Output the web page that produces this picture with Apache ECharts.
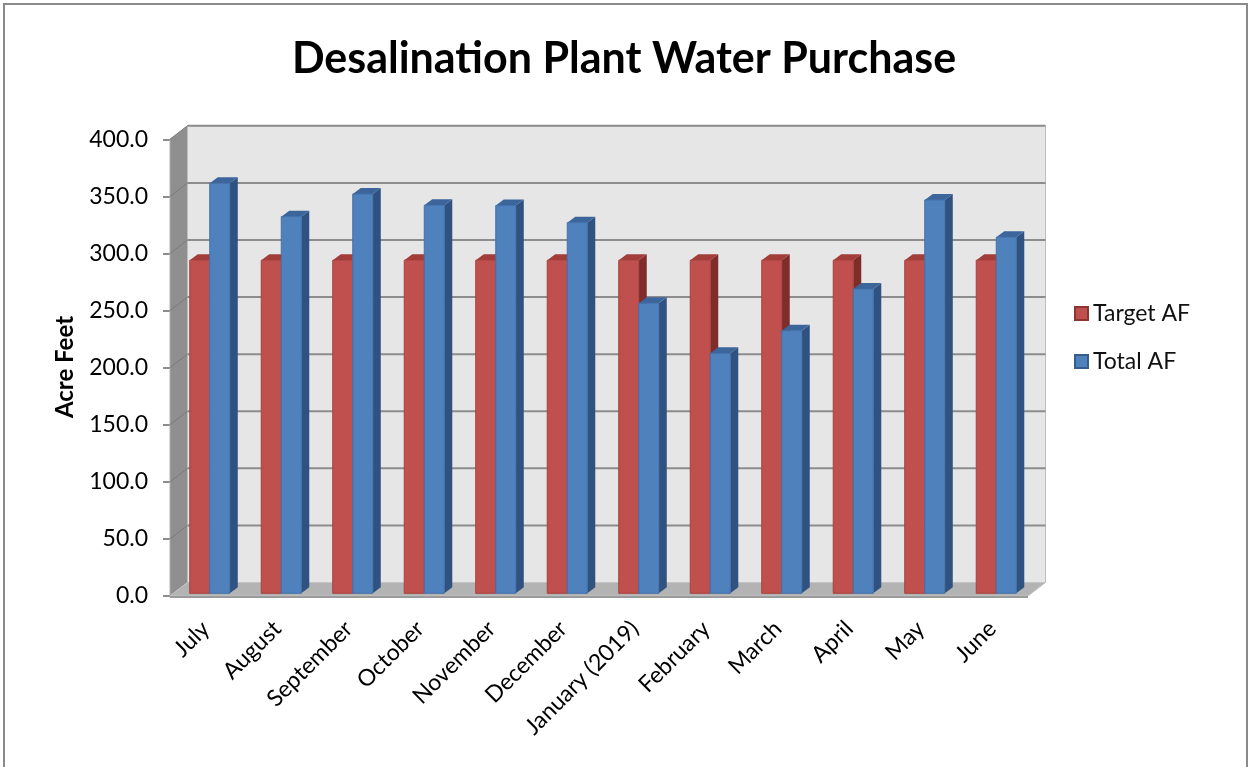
<!DOCTYPE html>
<html>
<head>
<meta charset="utf-8">
<title>Desalination Plant Water Purchase</title>
<script src="https://cdn.jsdelivr.net/npm/echarts@6/dist/echarts.min.js"></script>
<style>
  html, body { margin: 0; padding: 0; background: #ffffff; }
  #chart { width: 1248px; height: 767px; }
</style>
</head>
<body>
<div id="chart"></div>
<script>
// Monthly purchases, fiscal year July - June
const months = ['July', 'August', 'September', 'October', 'November', 'December',
  'January (2019)', 'February', 'March', 'April', 'May', 'June'];
const targetAF = [291.7, 291.7, 291.7, 291.7, 291.7, 291.7, 291.7, 291.7, 291.7, 291.7, 291.7, 291.7];
const totalAF = [359.1, 329.9, 349.7, 339.8, 339.6, 324.6, 254.0, 210.2, 230.0, 266.5, 344.5, 311.8];

// Value axis
const yMin = 0;
const yMax = 400;
const yStep = 50;
const yTicks = [0, 50, 100, 150, 200, 250, 300, 350, 400];

// Pseudo-3D geometry (pixels)
const DEPTH_DX = 17.5, DEPTH_DY = -13.5;   // front edge -> back wall
const BAR_DX0 = 4, BAR_DY0 = -2.7;         // bar front face inside the floor
const BAR_SX = 8, BAR_SY = -6;             // bar depth
const BAR_RATIO = 0.28;

const FONT = 'Lato, "Open Sans", sans-serif';

const palette = {
  red:  { front: '#C0504D', top: '#A23D3A', side: '#7E2D2B', edge: '#A8413E' },
  blue: { front: '#4F81BD', top: '#3C659C', side: '#2F5281', edge: '#4271A9' }
};

function barRenderer(offsetSide, colors) {
  return function (params, api) {
    const i = api.value(0);
    const v = api.value(1);
    const base = api.coord([i, 0]);
    const top = api.coord([i, v]);
    const band = api.size([1, 0])[0];
    const w = band * BAR_RATIO;
    const cx = base[0] + BAR_DX0;
    const x0 = offsetSide < 0 ? cx - w : cx;
    const x1 = x0 + w;
    const yb = base[1] + BAR_DY0;
    const yt = top[1] + BAR_DY0;
    return {
      type: 'group',
      children: [
        { type: 'polygon', shape: { points: [[x1, yt], [x1 + BAR_SX, yt + BAR_SY], [x1 + BAR_SX, yb + BAR_SY], [x1, yb]] },
          style: { fill: colors.side } },
        { type: 'polygon', shape: { points: [[x0, yt], [x1, yt], [x1 + BAR_SX, yt + BAR_SY], [x0 + BAR_SX, yt + BAR_SY]] },
          style: { fill: colors.top } },
        { type: 'rect', shape: { x: x0, y: yt, width: w, height: yb - yt },
          style: { fill: colors.front, stroke: colors.edge, lineWidth: 1 } }
      ]
    };
  };
}

function frameRenderer(params, api) {
  const cs = params.coordSys;
  const xl = cs.x, xr = cs.x + cs.width;
  const y0 = api.coord([0, yMin])[1];
  const yTop = api.coord([0, yMax])[1];
  const children = [];
  // left side wall
  children.push({ type: 'polygon', shape: { points: [[xl, y0], [xl, yTop], [xl + DEPTH_DX, yTop + DEPTH_DY], [xl + DEPTH_DX, y0 + DEPTH_DY]] },
    style: { fill: '#8f8f8f', stroke: '#b0b0b0', lineWidth: 1 } });
  // back wall
  children.push({ type: 'rect', shape: { x: xl + DEPTH_DX, y: yTop + DEPTH_DY, width: xr - xl, height: y0 - yTop } ,
    style: { fill: '#e6e6e6', stroke: '#bdbdbd', lineWidth: 1 } });
  // gridlines on back wall and side wall
  yTicks.forEach(function (t) {
    if (t === yMin) return;
    const y = api.coord([0, t])[1];
    children.push({ type: 'line', shape: { x1: xl + DEPTH_DX, y1: y + DEPTH_DY, x2: xr + DEPTH_DX, y2: y + DEPTH_DY },
      style: { stroke: '#8c8c8c', lineWidth: 2 } });
    children.push({ type: 'line', shape: { x1: xl, y1: y, x2: xl + DEPTH_DX, y2: y + DEPTH_DY },
      style: { stroke: '#7a7a7a', lineWidth: 1 } });
  });
  // floor
  children.push({ type: 'polygon', shape: { points: [[xl, y0], [xr, y0], [xr + DEPTH_DX, y0 + DEPTH_DY], [xl + DEPTH_DX, y0 + DEPTH_DY]] },
    style: { fill: '#b3b3b3', stroke: '#c4c4c4', lineWidth: 1 } });
  children.push({ type: 'line', shape: { x1: xl, y1: y0 + 1, x2: xr, y2: y0 + 1 },
    style: { stroke: '#9a9a9a', lineWidth: 2 } });
  return { type: 'group', children: children };
}

const chart = echarts.init(document.getElementById('chart'), null, { renderer: 'canvas' });

chart.setOption({
  backgroundColor: '#ffffff',
  animation: false,
  textStyle: { fontFamily: FONT },
  title: {
    text: 'Desalination Plant Water Purchase',
    left: 'center',
    top: 33,
    textStyle: { fontFamily: FONT, fontSize: 43, fontWeight: 'bold', color: '#000000' }
  },
  legend: {
    orient: 'vertical',
    left: 1069,
    top: 297,
    itemWidth: 13,
    itemHeight: 13,
    itemGap: 25,
    icon: 'rect',
    textStyle: { fontSize: 23, color: '#111111', fontFamily: FONT },
    data: ['Target AF', 'Total AF']
  },
  grid: { left: 170, right: 220, top: 139.3, bottom: 171, containLabel: false },
  xAxis: {
    type: 'category',
    data: months,
    axisLine: { show: false },
    axisTick: { show: false },
    axisLabel: { rotate: 45, margin: 29, fontSize: 23, color: '#000000', interval: 0, fontFamily: FONT }
  },
  yAxis: {
    type: 'value',
    min: yMin,
    max: yMax,
    interval: yStep,
    axisLine: { show: true, lineStyle: { color: '#a6a6a6', width: 1 } },
    axisTick: { show: true, length: 7, lineStyle: { color: '#8c8c8c', width: 2 } },
    splitLine: { show: false },
    axisLabel: { margin: 22, fontSize: 23, color: '#000000', fontFamily: FONT,
      formatter: function (v) { return v.toFixed(1); } }
  },
  graphic: [
    { type: 'text', x: 65, y: 367, rotation: Math.PI / 2,
      style: { text: 'Acre Feet', fill: '#000000', font: 'bold 24px Lato, sans-serif', textAlign: 'center', textVerticalAlign: 'middle' } },
    { type: 'polyline', shape: { points: [[4, 800], [4, 4], [1247, 4], [1247, 800]] },
      style: { stroke: '#8a8a8a', lineWidth: 2, fill: null } }
  ],
  series: [
    { name: 'frame', type: 'custom', renderItem: frameRenderer, data: [[0]], z: 1, silent: true, clip: false },
    { name: 'Target AF', type: 'custom', renderItem: barRenderer(-1, palette.red),
      data: targetAF.map(function (v, i) { return [i, v]; }), z: 2, clip: false,
      itemStyle: { color: palette.red.front, borderColor: '#8E3532', borderWidth: 1 } },
    { name: 'Total AF', type: 'custom', renderItem: barRenderer(0, palette.blue),
      data: totalAF.map(function (v, i) { return [i, v]; }), z: 3, clip: false,
      itemStyle: { color: palette.blue.front, borderColor: '#385D8A', borderWidth: 1 } }
  ]
});
</script>
</body>
</html>
